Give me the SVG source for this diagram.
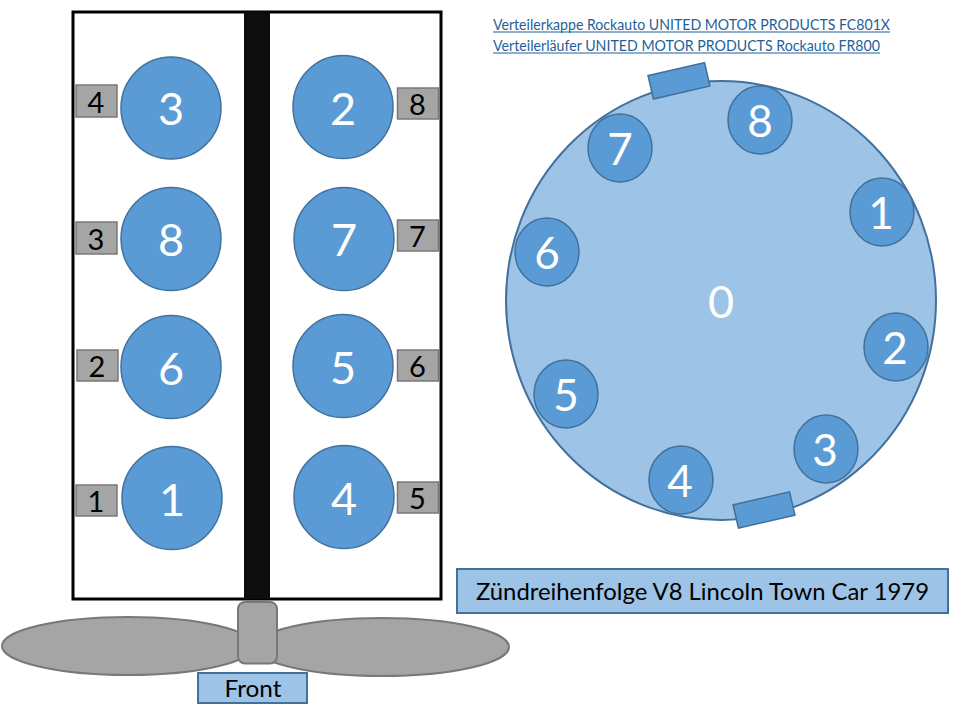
<svg xmlns="http://www.w3.org/2000/svg" width="960" height="706" viewBox="0 0 960 706">
<style>
text{font-family:Lato,"Open Sans","Liberation Sans",sans-serif;text-anchor:middle}
.c{fill:#5b9bd5;stroke:#41719c;stroke-width:1.5}
.n{fill:#fff;font-size:45px}
.d{fill:#fff;font-size:44px}
.t{fill:#a5a5a5;stroke:#787878;stroke-width:1.5}
.l{fill:#000;font-size:29px}
.g{fill:#a5a5a5;stroke:#787878;stroke-width:2}
.b{fill:#9dc3e6;stroke:#41719c;stroke-width:2}
.k{fill:#1f5f99;font-size:14.5px;text-anchor:start}
</style>
<rect width="960" height="706" fill="#fff"/>
<g id="block"><rect x="73" y="12" width="368" height="587" fill="#fff" stroke="#000" stroke-width="3"/><rect x="244" y="12" width="26" height="587" fill="#0d0d0d"/></g>
<g id="connectors"></g>
<g id="fan"><ellipse cx="128" cy="646" rx="126" ry="29" class="g"/><ellipse cx="382" cy="647" rx="127" ry="29" class="g"/><rect x="238" y="602" width="39" height="61.500" rx="7" class="g"/></g>
<g id="front"><rect x="198" y="673" width="109" height="30" class="b"/><text x="253" y="697" font-size="23" textLength="57" lengthAdjust="spacingAndGlyphs">Front</text></g>

<g id="cyl-3"><ellipse cx="171" cy="108" rx="50" ry="51" class="c"/><text x="171" y="125" class="n">3</text></g>
<g id="cyl-8"><ellipse cx="171" cy="239" rx="50" ry="51.500" class="c"/><text x="171" y="256" class="n">8</text></g>
<g id="cyl-6"><ellipse cx="171" cy="367" rx="50" ry="51.500" class="c"/><text x="171" y="385" class="n">6</text></g>
<g id="cyl-1"><ellipse cx="172" cy="498" rx="50" ry="51.500" class="c"/><text x="172" y="516" class="n">1</text></g>
<g id="cyl-2"><ellipse cx="343" cy="107" rx="50" ry="51.500" class="c"/><text x="343" y="125" class="n">2</text></g>
<g id="cyl-7"><ellipse cx="344" cy="239" rx="50" ry="51.500" class="c"/><text x="344" y="256" class="n">7</text></g>
<g id="cyl-5"><ellipse cx="343" cy="366" rx="50" ry="51.500" class="c"/><text x="343" y="384" class="n">5</text></g>
<g id="cyl-4"><ellipse cx="344" cy="497" rx="50" ry="51.500" class="c"/><text x="344" y="515" class="n">4</text></g>

<g id="tag-4"><rect x="76" y="85" width="41" height="32" class="t"/><text x="96" y="113" class="l">4</text></g>
<g id="tag-3"><rect x="76" y="222" width="41" height="32" class="t"/><text x="96" y="250" class="l">3</text></g>
<g id="tag-2l"><rect x="77" y="350" width="41" height="31" class="t"/><text x="97" y="377" class="l">2</text></g>
<g id="tag-1"><rect x="76" y="485" width="41" height="31" class="t"/><text x="96" y="512" class="l">1</text></g>
<g id="tag-8"><rect x="397.500" y="88" width="41" height="31" class="t"/><text x="417.500" y="115" class="l">8</text></g>
<g id="tag-7"><rect x="397.500" y="220" width="41" height="31" class="t"/><text x="417.500" y="247" class="l">7</text></g>
<g id="tag-6"><rect x="397.500" y="350" width="41" height="31" class="t"/><text x="417.500" y="377" class="l">6</text></g>
<g id="tag-5"><rect x="397.500" y="482" width="41" height="31" class="t"/><text x="417.500" y="509" class="l">5</text></g>

<g id="links">
<text x="493" y="30" class="k" textLength="397" lengthAdjust="spacingAndGlyphs">Verteilerkappe Rockauto UNITED MOTOR PRODUCTS FC801X</text>
<line x1="493" y1="32" x2="890" y2="32" stroke="#1f5f99" stroke-width="1"/>
<text x="493" y="51" class="k" textLength="387" lengthAdjust="spacingAndGlyphs">Verteilerläufer UNITED MOTOR PRODUCTS Rockauto FR800</text>
<line x1="493" y1="53" x2="880" y2="53" stroke="#1f5f99" stroke-width="1"/>
</g>

<g id="rotor"><ellipse cx="721" cy="300.500" rx="215" ry="219.500" fill="#9dc3e6" stroke="#41719c" stroke-width="2"/><text x="721" y="318" class="n">0</text></g>
<g id="pin-top"><rect x="650" y="69" width="58" height="24" transform="rotate(-13 678 81)" class="c"/></g>
<g id="pin-bottom"><rect x="735" y="498" width="58" height="24" transform="rotate(-13 764 510)" class="c"/></g>
<g id="d-8"><ellipse cx="760" cy="120" rx="32" ry="34" class="c"/><text x="760" y="137" class="d">8</text></g>
<g id="d-7"><ellipse cx="620" cy="148" rx="32" ry="34" class="c"/><text x="620" y="165" class="d">7</text></g>
<g id="d-1"><ellipse cx="882" cy="212" rx="32" ry="34" class="c"/><text x="881" y="229" class="d">1</text></g>
<g id="d-6"><ellipse cx="547" cy="252" rx="32" ry="34" class="c"/><text x="547" y="269" class="d">6</text></g>
<g id="d-2"><ellipse cx="896" cy="347" rx="32" ry="34" class="c"/><text x="895" y="364" class="d">2</text></g>
<g id="d-5"><ellipse cx="566" cy="394" rx="32" ry="34" class="c"/><text x="566" y="411" class="d">5</text></g>
<g id="d-3"><ellipse cx="826" cy="449" rx="32" ry="34" class="c"/><text x="825" y="466" class="d">3</text></g>
<g id="d-4"><ellipse cx="681" cy="480" rx="32" ry="34" class="c"/><text x="680" y="497" class="d">4</text></g>

<g id="title"><rect x="457" y="569" width="491" height="44" class="b"/><text x="702.500" y="600" font-size="24" textLength="453" lengthAdjust="spacingAndGlyphs">Zündreihenfolge V8 Lincoln Town Car 1979</text></g>
</svg>
